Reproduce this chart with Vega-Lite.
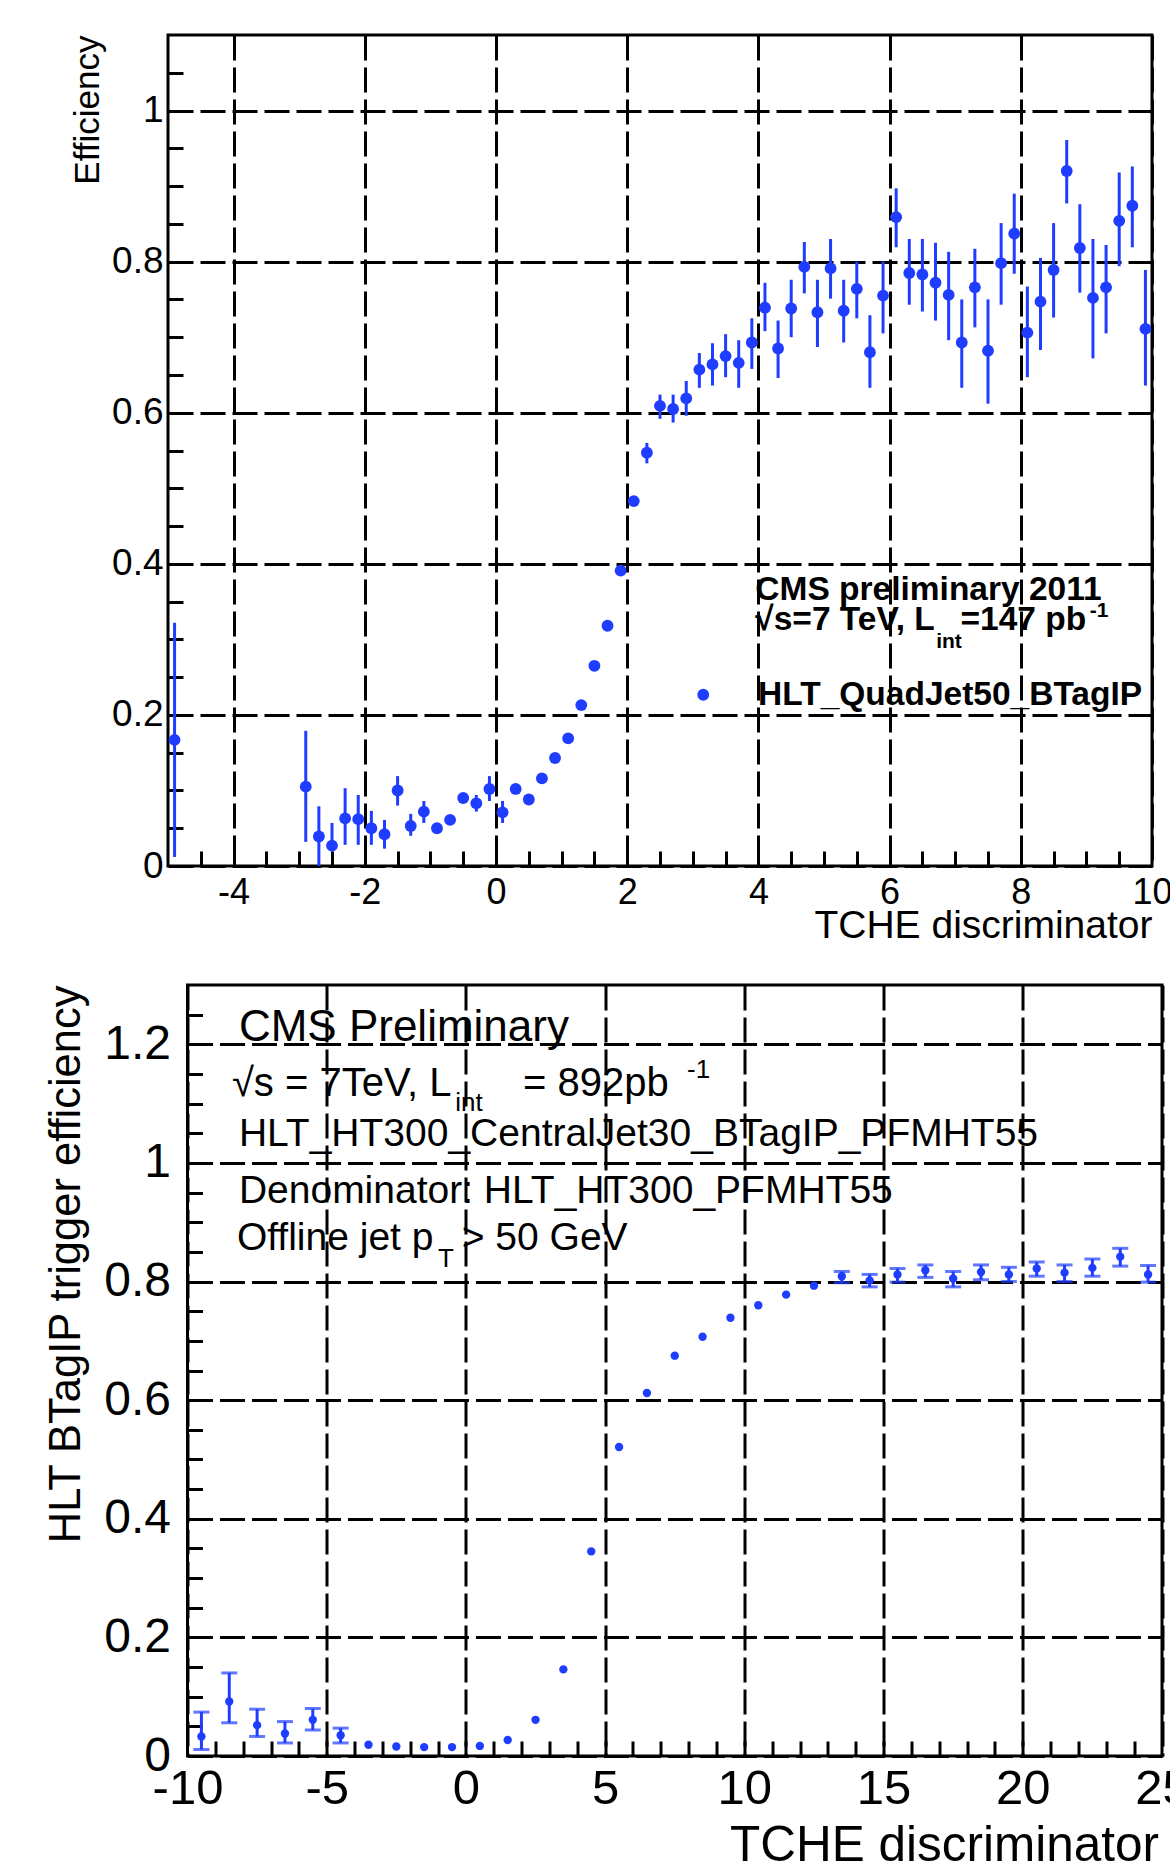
{
  "$schema": "https://vega.github.io/schema/vega-lite/v6.json",
  "autosize": {"type": "none"},
  "padding": {"left": 168, "top": 35, "right": 1002, "bottom": 1829},
  "background": "white",
  "bounds": "flush",
  "spacing": 119,
  "config": {
    "view": {"stroke": "black", "strokeWidth": 3},
    "font": "Liberation Sans",
    "axis": {
      "labelFont": "Liberation Sans", "titleFont": "Liberation Sans",
      "labelColor": "black", "titleColor": "black", "titleFontWeight": "normal",
      "tickColor": "black", "domain": false,
      "gridColor": "black", "gridDash": [25, 7], "gridWidth": 3, "gridOpacity": 1,
      "tickWidth": 3, "labelFlush": false, "labelOverlap": false, "labelBound": false
    }
  },
  "datasets": {
    "top": [
      {"x": -4.9, "y": 0.167, "lo": 0.012, "hi": 0.322, "series": "HLT_QuadJet50_BTagIP"},
      {"x": -2.9, "y": 0.105, "lo": 0.032, "hi": 0.179, "series": "HLT_QuadJet50_BTagIP"},
      {"x": -2.7, "y": 0.039, "lo": 0.0, "hi": 0.079, "series": "HLT_QuadJet50_BTagIP"},
      {"x": -2.5, "y": 0.027, "lo": 0.019, "hi": 0.057, "series": "HLT_QuadJet50_BTagIP"},
      {"x": -2.3, "y": 0.063, "lo": 0.028, "hi": 0.103, "series": "HLT_QuadJet50_BTagIP"},
      {"x": -2.1, "y": 0.062, "lo": 0.028, "hi": 0.094, "series": "HLT_QuadJet50_BTagIP"},
      {"x": -1.9, "y": 0.050, "lo": 0.028, "hi": 0.073, "series": "HLT_QuadJet50_BTagIP"},
      {"x": -1.7, "y": 0.042, "lo": 0.023, "hi": 0.061, "series": "HLT_QuadJet50_BTagIP"},
      {"x": -1.5, "y": 0.100, "lo": 0.080, "hi": 0.119, "series": "HLT_QuadJet50_BTagIP"},
      {"x": -1.3, "y": 0.053, "lo": 0.040, "hi": 0.069, "series": "HLT_QuadJet50_BTagIP"},
      {"x": -1.1, "y": 0.072, "lo": 0.057, "hi": 0.086, "series": "HLT_QuadJet50_BTagIP"},
      {"x": -0.9, "y": 0.050, "lo": 0.044, "hi": 0.056, "series": "HLT_QuadJet50_BTagIP"},
      {"x": -0.7, "y": 0.061, "lo": 0.055, "hi": 0.067, "series": "HLT_QuadJet50_BTagIP"},
      {"x": -0.5, "y": 0.090, "lo": 0.084, "hi": 0.096, "series": "HLT_QuadJet50_BTagIP"},
      {"x": -0.3, "y": 0.083, "lo": 0.072, "hi": 0.094, "series": "HLT_QuadJet50_BTagIP"},
      {"x": -0.1, "y": 0.102, "lo": 0.086, "hi": 0.119, "series": "HLT_QuadJet50_BTagIP"},
      {"x": 0.1, "y": 0.071, "lo": 0.057, "hi": 0.086, "series": "HLT_QuadJet50_BTagIP"},
      {"x": 0.3, "y": 0.102, "lo": 0.096, "hi": 0.108, "series": "HLT_QuadJet50_BTagIP"},
      {"x": 0.5, "y": 0.088, "lo": 0.082, "hi": 0.094, "series": "HLT_QuadJet50_BTagIP"},
      {"x": 0.7, "y": 0.116, "lo": 0.110, "hi": 0.122, "series": "HLT_QuadJet50_BTagIP"},
      {"x": 0.9, "y": 0.143, "lo": 0.137, "hi": 0.149, "series": "HLT_QuadJet50_BTagIP"},
      {"x": 1.1, "y": 0.169, "lo": 0.163, "hi": 0.175, "series": "HLT_QuadJet50_BTagIP"},
      {"x": 1.3, "y": 0.213, "lo": 0.207, "hi": 0.219, "series": "HLT_QuadJet50_BTagIP"},
      {"x": 1.5, "y": 0.265, "lo": 0.259, "hi": 0.271, "series": "HLT_QuadJet50_BTagIP"},
      {"x": 1.7, "y": 0.318, "lo": 0.312, "hi": 0.324, "series": "HLT_QuadJet50_BTagIP"},
      {"x": 1.9, "y": 0.391, "lo": 0.385, "hi": 0.397, "series": "HLT_QuadJet50_BTagIP"},
      {"x": 2.1, "y": 0.483, "lo": 0.477, "hi": 0.489, "series": "HLT_QuadJet50_BTagIP"},
      {"x": 2.3, "y": 0.547, "lo": 0.533, "hi": 0.560, "series": "HLT_QuadJet50_BTagIP"},
      {"x": 2.5, "y": 0.609, "lo": 0.592, "hi": 0.624, "series": "HLT_QuadJet50_BTagIP"},
      {"x": 2.7, "y": 0.605, "lo": 0.587, "hi": 0.624, "series": "HLT_QuadJet50_BTagIP"},
      {"x": 2.9, "y": 0.619, "lo": 0.596, "hi": 0.642, "series": "HLT_QuadJet50_BTagIP"},
      {"x": 3.1, "y": 0.657, "lo": 0.633, "hi": 0.679, "series": "HLT_QuadJet50_BTagIP"},
      {"x": 3.3, "y": 0.664, "lo": 0.636, "hi": 0.692, "series": "HLT_QuadJet50_BTagIP"},
      {"x": 3.5, "y": 0.675, "lo": 0.647, "hi": 0.704, "series": "HLT_QuadJet50_BTagIP"},
      {"x": 3.7, "y": 0.666, "lo": 0.633, "hi": 0.696, "series": "HLT_QuadJet50_BTagIP"},
      {"x": 3.9, "y": 0.693, "lo": 0.658, "hi": 0.725, "series": "HLT_QuadJet50_BTagIP"},
      {"x": 4.1, "y": 0.739, "lo": 0.708, "hi": 0.772, "series": "HLT_QuadJet50_BTagIP"},
      {"x": 4.3, "y": 0.685, "lo": 0.646, "hi": 0.722, "series": "HLT_QuadJet50_BTagIP"},
      {"x": 4.5, "y": 0.738, "lo": 0.700, "hi": 0.776, "series": "HLT_QuadJet50_BTagIP"},
      {"x": 4.7, "y": 0.793, "lo": 0.758, "hi": 0.826, "series": "HLT_QuadJet50_BTagIP"},
      {"x": 4.9, "y": 0.733, "lo": 0.687, "hi": 0.776, "series": "HLT_QuadJet50_BTagIP"},
      {"x": 5.1, "y": 0.791, "lo": 0.751, "hi": 0.830, "series": "HLT_QuadJet50_BTagIP"},
      {"x": 5.3, "y": 0.735, "lo": 0.693, "hi": 0.776, "series": "HLT_QuadJet50_BTagIP"},
      {"x": 5.5, "y": 0.764, "lo": 0.725, "hi": 0.800, "series": "HLT_QuadJet50_BTagIP"},
      {"x": 5.7, "y": 0.680, "lo": 0.633, "hi": 0.729, "series": "HLT_QuadJet50_BTagIP"},
      {"x": 5.9, "y": 0.755, "lo": 0.705, "hi": 0.800, "series": "HLT_QuadJet50_BTagIP"},
      {"x": 6.1, "y": 0.859, "lo": 0.819, "hi": 0.897, "series": "HLT_QuadJet50_BTagIP"},
      {"x": 6.3, "y": 0.785, "lo": 0.743, "hi": 0.830, "series": "HLT_QuadJet50_BTagIP"},
      {"x": 6.5, "y": 0.783, "lo": 0.734, "hi": 0.830, "series": "HLT_QuadJet50_BTagIP"},
      {"x": 6.7, "y": 0.772, "lo": 0.722, "hi": 0.825, "series": "HLT_QuadJet50_BTagIP"},
      {"x": 6.9, "y": 0.756, "lo": 0.696, "hi": 0.813, "series": "HLT_QuadJet50_BTagIP"},
      {"x": 7.1, "y": 0.693, "lo": 0.633, "hi": 0.750, "series": "HLT_QuadJet50_BTagIP"},
      {"x": 7.3, "y": 0.766, "lo": 0.713, "hi": 0.817, "series": "HLT_QuadJet50_BTagIP"},
      {"x": 7.5, "y": 0.682, "lo": 0.612, "hi": 0.750, "series": "HLT_QuadJet50_BTagIP"},
      {"x": 7.7, "y": 0.798, "lo": 0.743, "hi": 0.851, "series": "HLT_QuadJet50_BTagIP"},
      {"x": 7.9, "y": 0.837, "lo": 0.784, "hi": 0.890, "series": "HLT_QuadJet50_BTagIP"},
      {"x": 8.1, "y": 0.706, "lo": 0.647, "hi": 0.767, "series": "HLT_QuadJet50_BTagIP"},
      {"x": 8.3, "y": 0.747, "lo": 0.683, "hi": 0.805, "series": "HLT_QuadJet50_BTagIP"},
      {"x": 8.5, "y": 0.789, "lo": 0.726, "hi": 0.851, "series": "HLT_QuadJet50_BTagIP"},
      {"x": 8.7, "y": 0.920, "lo": 0.877, "hi": 0.961, "series": "HLT_QuadJet50_BTagIP"},
      {"x": 8.9, "y": 0.818, "lo": 0.759, "hi": 0.876, "series": "HLT_QuadJet50_BTagIP"},
      {"x": 9.1, "y": 0.752, "lo": 0.672, "hi": 0.830, "series": "HLT_QuadJet50_BTagIP"},
      {"x": 9.3, "y": 0.766, "lo": 0.705, "hi": 0.822, "series": "HLT_QuadJet50_BTagIP"},
      {"x": 9.5, "y": 0.854, "lo": 0.794, "hi": 0.918, "series": "HLT_QuadJet50_BTagIP"},
      {"x": 9.7, "y": 0.874, "lo": 0.819, "hi": 0.926, "series": "HLT_QuadJet50_BTagIP"},
      {"x": 9.9, "y": 0.711, "lo": 0.636, "hi": 0.789, "series": "HLT_QuadJet50_BTagIP"}
    ],
    "bottom": [
      {"x": -9.5, "y": 0.033, "lo": 0.011, "hi": 0.074},
      {"x": -8.5, "y": 0.092, "lo": 0.056, "hi": 0.140},
      {"x": -7.5, "y": 0.052, "lo": 0.033, "hi": 0.079},
      {"x": -6.5, "y": 0.038, "lo": 0.022, "hi": 0.058},
      {"x": -5.5, "y": 0.061, "lo": 0.044, "hi": 0.080},
      {"x": -4.5, "y": 0.035, "lo": 0.022, "hi": 0.047},
      {"x": -3.5, "y": 0.019},
      {"x": -2.5, "y": 0.016},
      {"x": -1.5, "y": 0.015},
      {"x": -0.5, "y": 0.015},
      {"x": 0.5, "y": 0.017},
      {"x": 1.5, "y": 0.027},
      {"x": 2.5, "y": 0.061},
      {"x": 3.5, "y": 0.146},
      {"x": 4.5, "y": 0.345},
      {"x": 5.5, "y": 0.521},
      {"x": 6.5, "y": 0.612},
      {"x": 7.5, "y": 0.675},
      {"x": 8.5, "y": 0.707},
      {"x": 9.5, "y": 0.739},
      {"x": 10.5, "y": 0.760},
      {"x": 11.5, "y": 0.778},
      {"x": 12.5, "y": 0.793},
      {"x": 13.5, "y": 0.809, "lo": 0.798, "hi": 0.817},
      {"x": 14.5, "y": 0.802, "lo": 0.791, "hi": 0.812},
      {"x": 15.5, "y": 0.812, "lo": 0.799, "hi": 0.822},
      {"x": 16.5, "y": 0.819, "lo": 0.807, "hi": 0.828},
      {"x": 17.5, "y": 0.805, "lo": 0.791, "hi": 0.817},
      {"x": 18.5, "y": 0.816, "lo": 0.803, "hi": 0.828},
      {"x": 19.5, "y": 0.812, "lo": 0.800, "hi": 0.824},
      {"x": 20.5, "y": 0.822, "lo": 0.809, "hi": 0.833},
      {"x": 21.5, "y": 0.815, "lo": 0.800, "hi": 0.828},
      {"x": 22.5, "y": 0.823, "lo": 0.809, "hi": 0.838},
      {"x": 23.5, "y": 0.842, "lo": 0.826, "hi": 0.856},
      {"x": 24.5, "y": 0.812, "lo": 0.799, "hi": 0.827}
    ]
  },
  "vconcat": [
    {
      "width": 984,
      "height": 831,
      "layer": [
        {
          "data": {"name": "top"},
          "mark": {"type": "rule", "color": "#1f3dff", "strokeWidth": 3},
          "encoding": {
            "x": {
              "field": "x", "type": "quantitative",
              "scale": {"domain": [-5, 10], "nice": false, "zero": false},
              "axis": {
                "orient": "bottom", "values": [-4, -2, 0, 2, 4, 6, 8, 10],
                "grid": true, "ticks": false, "labelFontSize": 36, "labelPadding": 9,
                "labelExpr": "datum.value < 0 ? '-' + format(-datum.value, '~g') : format(datum.value, '~g')",
                "title": "TCHE discriminator", "titleFontSize": 39,
                "titleX": 984, "titleY": 71, "titleAlign": "right", "titleAnchor": "end",
                "titleBaseline": "alphabetic", "titleAngle": 0
              }
            },
            "y": {
              "field": "lo", "type": "quantitative",
              "scale": {"domain": [0, 1.1], "nice": false, "zero": false},
              "axis": {
                "orient": "left", "values": [0, 0.2, 0.4, 0.6, 0.8, 1],
                "grid": true, "ticks": false, "labelFontSize": 37, "labelPadding": 5,
                "format": "~g",
                "title": "Efficiency", "titleFontSize": 35,
                "titleX": -70, "titleY": 0, "titleAngle": 270, "titleAlign": "right",
                "titleBaseline": "alphabetic"
              }
            },
            "y2": {"field": "hi"}
          }
        },
        {
          "data": {"name": "top"},
          "mark": {"type": "point", "filled": true, "size": 140, "shape": "circle", "opacity": 1},
          "encoding": {
            "x": {
              "field": "x", "type": "quantitative",
              "axis": {
                "orient": "bottom",
                "values": [-4.5, -4, -3.5, -3, -2.5, -2, -1.5, -1, -0.5, 0, 0.5, 1, 1.5, 2, 2.5, 3, 3.5, 4, 4.5, 5, 5.5, 6, 6.5, 7, 7.5, 8, 8.5, 9, 9.5],
                "grid": false, "labels": false, "ticks": true, "tickSize": 15, "offset": -15, "title": null
              }
            },
            "y": {
              "field": "y", "type": "quantitative",
              "axis": {
                "orient": "left",
                "values": [0.05, 0.1, 0.15, 0.2, 0.25, 0.3, 0.35, 0.4, 0.45, 0.5, 0.55, 0.6, 0.65, 0.7, 0.75, 0.8, 0.85, 0.9, 0.95, 1, 1.05],
                "grid": false, "labels": false, "ticks": true, "tickSize": 15, "offset": -15, "title": null
              }
            },
            "color": {
              "field": "series", "type": "nominal",
              "scale": {"range": ["#1f3dff"]},
              "legend": {
                "orient": "none", "legendX": 518.5, "legendY": 643, "title": null,
                "labelFont": "Liberation Sans", "labelFontSize": 33.5, "labelFontWeight": "bold",
                "labelColor": "black", "labelOffset": 38, "labelLimit": 0,
                "symbolSize": 140, "symbolType": "circle", "symbolStrokeWidth": 0,
                "symbolFillColor": "#1f3dff", "padding": 0
              }
            }
          }
        },
        {
          "data": {"values": [
            {"x": 3.953, "y": 0.352, "text": "CMS preliminary 2011"},
            {"x": 3.953, "y": 0.313, "text": "√s=7 TeV, L"},
            {"x": 7.08, "y": 0.313, "text": "=147 pb"}
          ]},
          "mark": {"type": "text", "align": "left", "baseline": "alphabetic", "font": "Liberation Sans", "fontWeight": "bold", "fontSize": 33.5, "color": "black"},
          "encoding": {
            "x": {"field": "x", "type": "quantitative", "axis": null},
            "y": {"field": "y", "type": "quantitative", "axis": null},
            "text": {"field": "text"}
          }
        },
        {
          "data": {"values": [
            {"x": 6.71, "y": 0.289, "text": "int"},
            {"x": 9.05, "y": 0.329, "text": "-1"}
          ]},
          "mark": {"type": "text", "align": "left", "baseline": "alphabetic", "font": "Liberation Sans", "fontWeight": "bold", "fontSize": 21, "color": "black"},
          "encoding": {
            "x": {"field": "x", "type": "quantitative", "axis": null},
            "y": {"field": "y", "type": "quantitative", "axis": null},
            "text": {"field": "text"}
          }
        }
      ],
      "resolve": {"axis": {"x": "independent", "y": "independent"}}
    },
    {
      "bounds": "flush",
      "spacing": 18.5,
      "hconcat": [
        {
          "width": 1,
          "height": 771,
          "view": {"stroke": null},
          "data": {"values": [{}]},
          "mark": {"type": "text", "text": ""}
        },
        {
          "width": 974.5,
          "height": 771,
          "layer": [
            {
              "data": {"name": "bottom"},
              "transform": [{"filter": "isValid(datum.lo)"}],
              "mark": {"type": "rule", "color": "#1f3dff", "strokeWidth": 3},
              "encoding": {
                "x": {
                  "field": "x", "type": "quantitative",
                  "scale": {"domain": [-10, 25], "nice": false, "zero": false},
                  "axis": {
                    "orient": "bottom", "values": [-10, -5, 0, 5, 10, 15, 20, 25],
                    "grid": true, "ticks": false, "labelFontSize": 49, "labelPadding": 8,
                    "labelExpr": "datum.value < 0 ? '-' + format(-datum.value, '~g') : format(datum.value, '~g')",
                    "title": "TCHE discriminator", "titleFontSize": 49.5,
                    "titleX": 971, "titleY": 104, "titleAlign": "right", "titleAnchor": "end",
                    "titleBaseline": "alphabetic", "titleAngle": 0
                  }
                },
                "y": {
                  "field": "lo", "type": "quantitative",
                  "scale": {"domain": [0, 1.3], "nice": false, "zero": false},
                  "axis": {
                    "orient": "left", "values": [0, 0.2, 0.4, 0.6, 0.8, 1, 1.2],
                    "grid": true, "ticks": false, "labelFontSize": 48, "labelPadding": 17,
                    "format": "~g",
                    "title": "HLT BTagIP trigger efficiency", "titleFontSize": 43.5,
                    "titleX": -108.5, "titleY": 0, "titleAngle": 270, "titleAlign": "right",
                    "titleBaseline": "alphabetic"
                  }
                },
                "y2": {"field": "hi"}
              }
            },
            {
              "data": {"name": "bottom"},
              "transform": [{"filter": "isValid(datum.lo)"}],
              "mark": {"type": "tick", "orient": "horizontal", "size": 16, "thickness": 3, "color": "#1f3dff"},
              "encoding": {
                "x": {"field": "x", "type": "quantitative", "axis": null},
                "y": {"field": "lo", "type": "quantitative", "axis": null}
              }
            },
            {
              "data": {"name": "bottom"},
              "transform": [{"filter": "isValid(datum.hi)"}],
              "mark": {"type": "tick", "orient": "horizontal", "size": 16, "thickness": 3, "color": "#1f3dff"},
              "encoding": {
                "x": {"field": "x", "type": "quantitative", "axis": null},
                "y": {"field": "hi", "type": "quantitative", "axis": null}
              }
            },
            {
              "data": {"name": "bottom"},
              "mark": {"type": "point", "filled": true, "size": 70, "shape": "circle", "opacity": 1, "color": "#1f3dff"},
              "encoding": {
                "x": {
                  "field": "x", "type": "quantitative",
                  "axis": {
                    "orient": "bottom",
                    "values": [-9, -8, -7, -6, -5, -4, -3, -2, -1, 0, 1, 2, 3, 4, 5, 6, 7, 8, 9, 10, 11, 12, 13, 14, 15, 16, 17, 18, 19, 20, 21, 22, 23, 24],
                    "grid": false, "labels": false, "ticks": true, "tickSize": 15, "offset": -15, "title": null
                  }
                },
                "y": {
                  "field": "y", "type": "quantitative",
                  "axis": {
                    "orient": "left",
                    "values": [0.05, 0.1, 0.15, 0.2, 0.25, 0.3, 0.35, 0.4, 0.45, 0.5, 0.55, 0.6, 0.65, 0.7, 0.75, 0.8, 0.85, 0.9, 0.95, 1, 1.05, 1.1, 1.15, 1.2, 1.25],
                    "grid": false, "labels": false, "ticks": true, "tickSize": 15, "offset": -15, "title": null
                  }
                }
              }
            },
            {
              "data": {"values": [
                {"x": -8.154, "y": 1.205, "text": "CMS Preliminary"}
              ]},
              "mark": {"type": "text", "align": "left", "baseline": "alphabetic", "font": "Liberation Sans", "fontSize": 44, "color": "black"},
              "encoding": {
                "x": {"field": "x", "type": "quantitative", "axis": null},
                "y": {"field": "y", "type": "quantitative", "axis": null},
                "text": {"field": "text"}
              }
            },
            {
              "data": {"values": [
                {"x": -8.405, "y": 1.112, "text": "√s = 7TeV, L"},
                {"x": 2.047, "y": 1.112, "text": "= 892pb"}
              ]},
              "mark": {"type": "text", "align": "left", "baseline": "alphabetic", "font": "Liberation Sans", "fontSize": 40, "color": "black"},
              "encoding": {
                "x": {"field": "x", "type": "quantitative", "axis": null},
                "y": {"field": "y", "type": "quantitative", "axis": null},
                "text": {"field": "text"}
              }
            },
            {
              "data": {"values": [
                {"x": -8.154, "y": 1.028, "text": "HLT_HT300_CentralJet30_BTagIP_PFMHT55"},
                {"x": -8.154, "y": 0.932, "text": "Denominator: HLT_HT300_PFMHT55"},
                {"x": -8.226, "y": 0.854, "text": "Offline jet p"},
                {"x": -0.15, "y": 0.854, "text": "> 50 GeV"}
              ]},
              "mark": {"type": "text", "align": "left", "baseline": "alphabetic", "font": "Liberation Sans", "fontSize": 39, "color": "black"},
              "encoding": {
                "x": {"field": "x", "type": "quantitative", "axis": null},
                "y": {"field": "y", "type": "quantitative", "axis": null},
                "text": {"field": "text"}
              }
            },
            {
              "data": {"values": [
                {"x": -0.38, "y": 1.087, "text": "int"},
                {"x": 7.94, "y": 1.144, "text": "-1"},
                {"x": -1.0, "y": 0.825, "text": "T"}
              ]},
              "mark": {"type": "text", "align": "left", "baseline": "alphabetic", "font": "Liberation Sans", "fontSize": 26, "color": "black"},
              "encoding": {
                "x": {"field": "x", "type": "quantitative", "axis": null},
                "y": {"field": "y", "type": "quantitative", "axis": null},
                "text": {"field": "text"}
              }
            }
          ],
          "resolve": {"axis": {"x": "independent", "y": "independent"}}
        }
      ]
    }
  ]
}
